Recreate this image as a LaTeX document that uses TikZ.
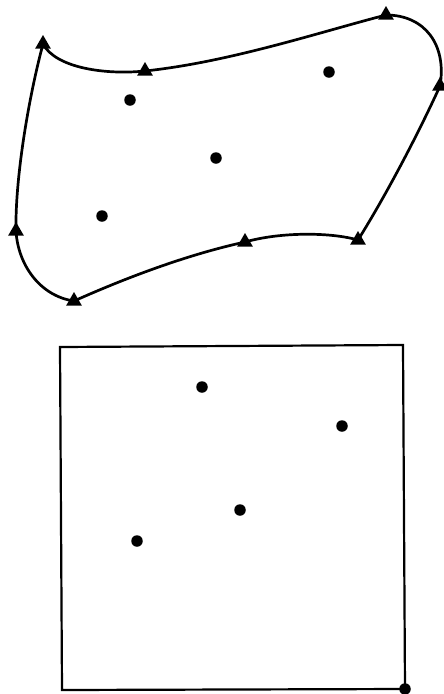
\documentclass[tikz,border=0pt]{standalone}
\usetikzlibrary{shapes.geometric}
\begin{document}
\begin{tikzpicture}[x=1pt,y=-1pt,
  tri/.style={regular polygon, regular polygon sides=3, fill=black, minimum size=18pt, inner sep=0pt},
  dot/.style={circle, fill=black, minimum size=11.5pt, inner sep=0pt},
  edge/.style={line width=2.7pt, line join=round},
  frame/.style={line width=2.2pt, line join=miter}]
\useasboundingbox (0,0) rectangle (444,694);
\fill[white] (0,0) rectangle (444,694);
% vertices of the curved patch
\coordinate (A) at (43,44);
\coordinate (B) at (145,71);
\coordinate (C) at (386,15);
\coordinate (D) at (440,86);
\coordinate (E) at (358,240);
\coordinate (F) at (245,242);
\coordinate (G) at (74,301);
\coordinate (H) at (16,231);
\draw[edge] (A) .. controls (56,68) and (105,75) .. (B)
  .. controls (230,62) and (320,32) .. (C)
  .. controls (425,15) and (447,45) .. (D)
  .. controls (420,130) and (388,192) .. (E)
  .. controls (330,232) and (280,232) .. (F)
  .. controls (190,254) and (130,276) .. (G)
  .. controls (40,296) and (18,265) .. (H)
  .. controls (15,180) and (28,100) .. (A);
\foreach \p in {A,B,C,D,E,F,G,H}
  \node[tri] (t\p) at (\p) {};
% interior points
\node[dot] (p1) at (130,100) {};
\node[dot] (p2) at (329,72) {};
\node[dot] (p3) at (216,158) {};
\node[dot] (p4) at (102,216) {};
% square
\coordinate (S1) at (60,347);
\coordinate (S2) at (403,345);
\coordinate (S3) at (405,689);
\coordinate (S4) at (62,690);
\draw[frame] (S1) -- (S2) -- (S3) -- (S4) -- cycle;
\node[dot] (q0) at (S3) {};
\node[dot] (q1) at (202,387) {};
\node[dot] (q2) at (342,426) {};
\node[dot] (q3) at (240,510) {};
\node[dot] (q4) at (137,541) {};
\end{tikzpicture}
\end{document}
